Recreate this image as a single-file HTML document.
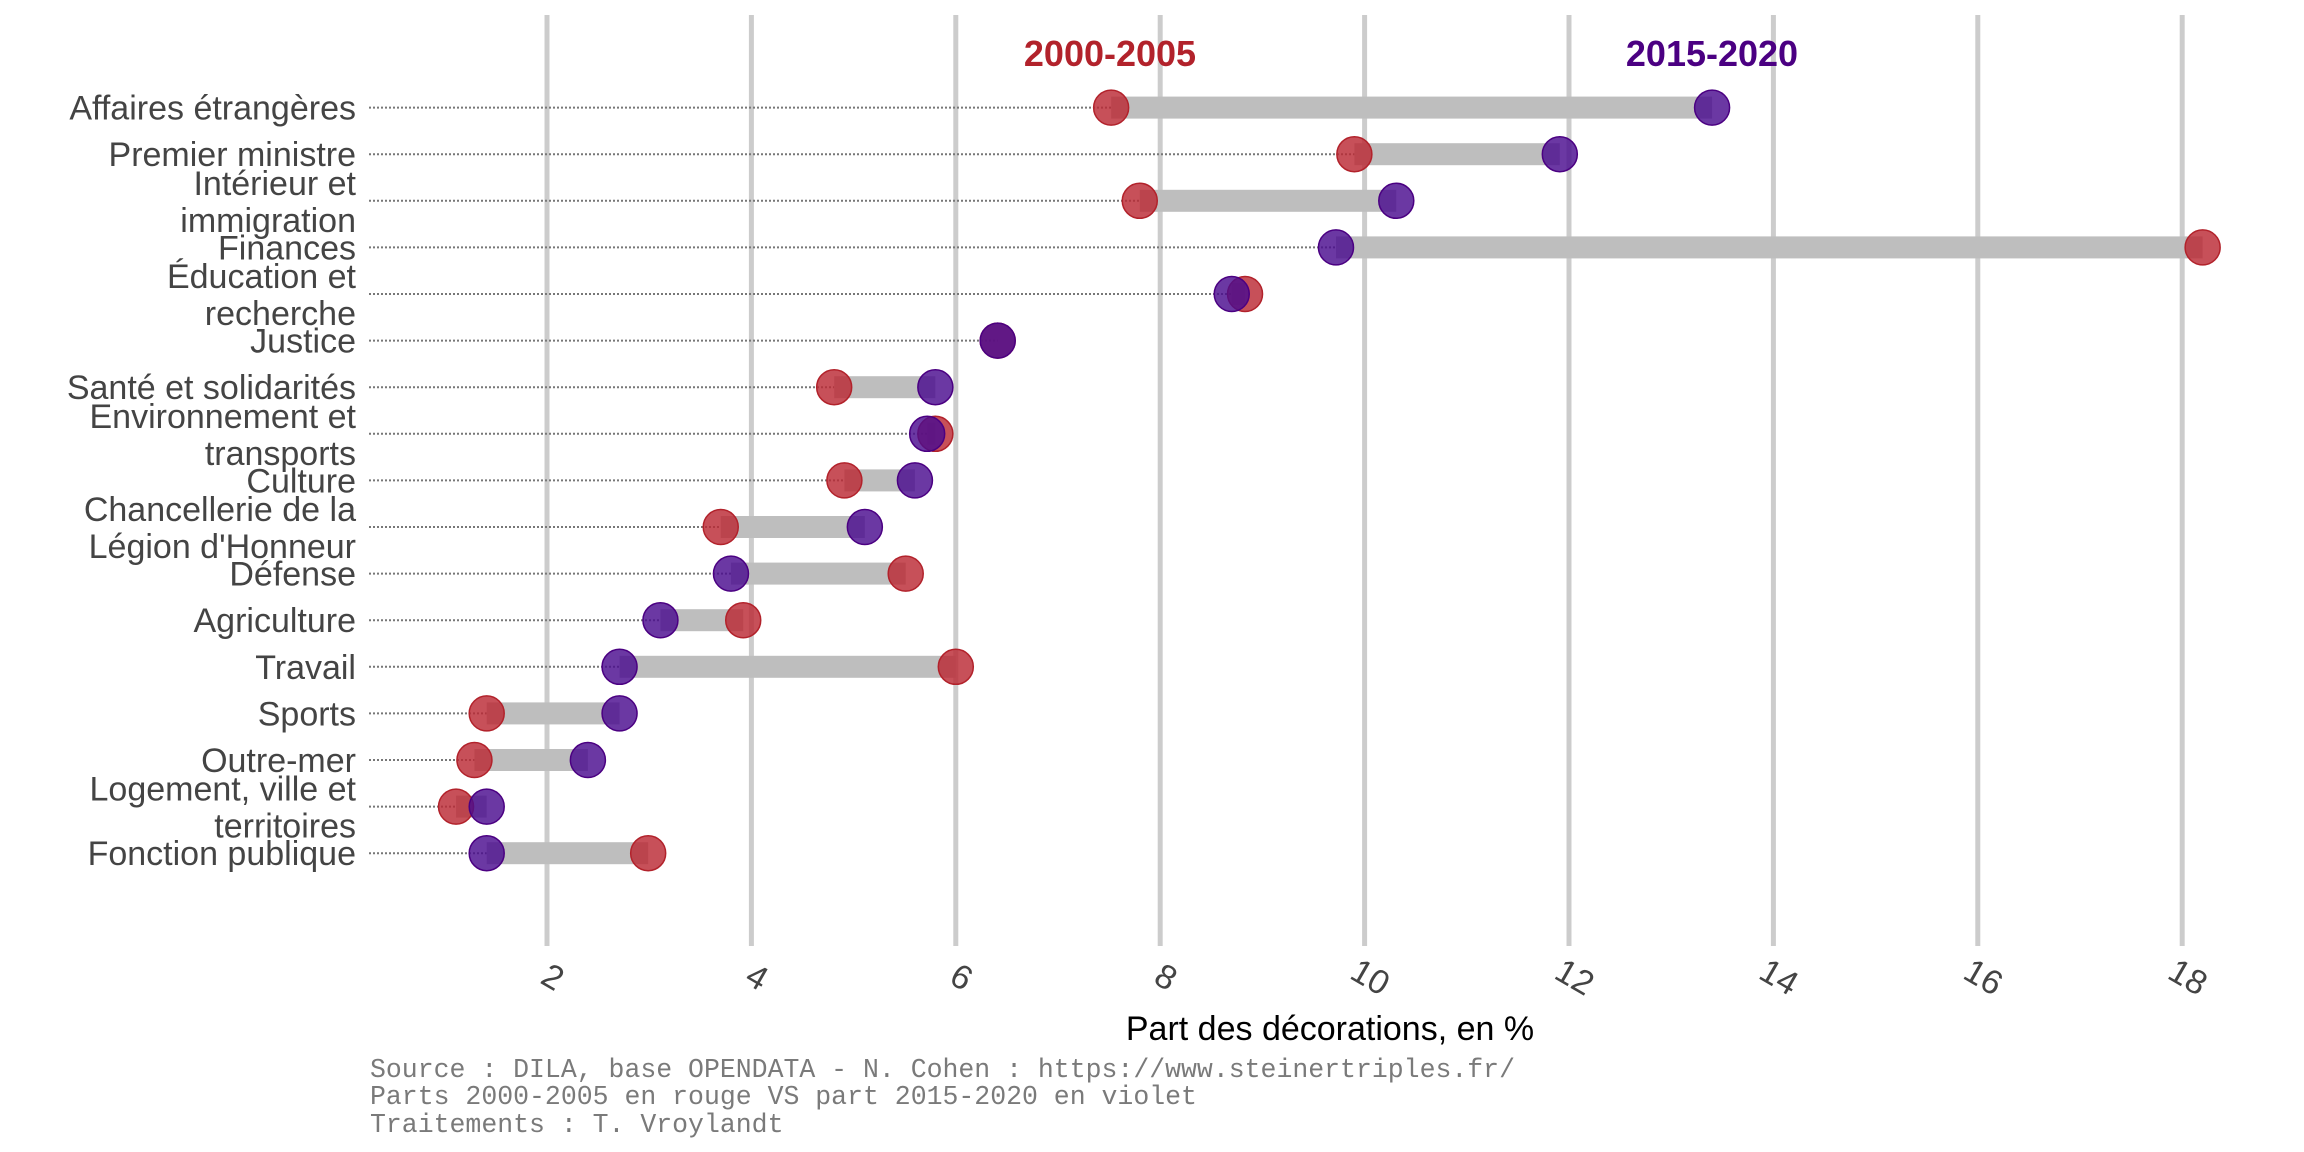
<!DOCTYPE html>
<html><head><meta charset="utf-8"><style>
html,body{margin:0;padding:0;background:#fff;}
svg{display:block;}
</style></head><body>
<svg id="chart" width="2304" height="1152" viewBox="0 0 2304 1152" xmlns="http://www.w3.org/2000/svg">
<g id="grid"></g>
<g id="rows"></g>
<text x="1110" y="66" text-anchor="middle" font-family="Liberation Sans, sans-serif" font-weight="bold" font-size="36" fill="#b2222b">2000-2005</text>
<text x="1712" y="66" text-anchor="middle" font-family="Liberation Sans, sans-serif" font-weight="bold" font-size="36" fill="#4b0082">2015-2020</text>
<text x="1330" y="1040" text-anchor="middle" font-family="Liberation Sans, sans-serif" font-size="34" fill="#000">Part des décorations, en %</text>
<g font-family="Liberation Mono, monospace" font-size="26.5" fill="#7a7a7a">
<text x="370" y="1077">Source : DILA, base OPENDATA - N. Cohen : https://www.steinertriples.fr/</text>
<text x="370" y="1104">Parts 2000-2005 en rouge VS part 2015-2020 en violet</text>
<text x="370" y="1132">Traitements : T. Vroylandt</text>
</g>
</svg>
<script>
const categories = [["Affaires étrangères"],["Premier ministre"],["Intérieur et","immigration"],["Finances"],["Éducation et","recherche"],["Justice"],["Santé et solidarités"],["Environnement et","transports"],["Culture"],["Chancellerie de la","Légion d'Honneur"],["Défense"],["Agriculture"],["Travail"],["Sports"],["Outre-mer"],["Logement, ville et","territoires"],["Fonction publique"]];
const values2000 = [7.52,9.9,7.8,18.2,8.83,6.41,4.81,5.8,4.91,3.7,5.51,3.92,6.0,1.41,1.29,1.11,2.99];
const values2015 = [13.4,11.91,10.31,9.72,8.7,6.41,5.8,5.72,5.6,5.11,3.8,3.11,2.71,2.71,2.4,1.41,1.41];
const xTicks = [2,4,6,8,10,12,14,16,18];

const NS = "http://www.w3.org/2000/svg";
const xScale = v => 547 + (v - 2) * 102.2;
const yScale = i => 107.6 + i * 46.6;
function mk(tag, attrs, parent){ const e=document.createElementNS(NS,tag); for(const k in attrs) e.setAttribute(k,attrs[k]); parent.appendChild(e); return e; }

const grid = document.getElementById('grid');
xTicks.forEach(t => {
  const l = mk('line',{x1:xScale(t),x2:xScale(t),y1:15,y2:946,stroke:'#cccccc','stroke-width':5},grid);
  
  
  const tx = mk('text',{x:0,y:0,'text-anchor':'middle','font-family':'Liberation Sans, sans-serif','font-size':34,fill:'#444',transform:`translate(${xScale(t)},987) rotate(30)`},grid);
  tx.textContent = t;
  
  
});

const rows = document.getElementById('rows');
categories.forEach((lab, i) => {
  const y = yScale(i);
  const a = values2000[i], b = values2015[i];
  const g = mk('g',{},rows);
  
  
  const t = mk('text',{x:356,'text-anchor':'end','font-family':'Liberation Sans, sans-serif','font-size':34,fill:'#444'},g);
  
  
  if(lab.length===1){ mk('tspan',{x:356,y:y+12},t).textContent=lab[0]; }
  else { mk('tspan',{x:356,y:y-6},t).textContent=lab[0]; mk('tspan',{x:356,y:y+31},t).textContent=lab[1]; }
  const lo = Math.min(a,b), hi = Math.max(a,b);
  const d = mk('line',{x1:369,x2:xScale(lo),y1:y,y2:y,stroke:'#777','stroke-width':2,'stroke-dasharray':'2 2'},g);
  
  
  const s = mk('rect',{x:xScale(lo),y:y-11,width:xScale(hi)-xScale(lo),height:22,fill:'#bebebe'},g);
  
  
  const c1 = mk('circle',{cx:xScale(a),cy:y,r:17.5,fill:'#bb2a34','fill-opacity':0.82,stroke:'#b2222b','stroke-width':1.5},g);
  
  
  const c2 = mk('circle',{cx:xScale(b),cy:y,r:17.5,fill:'#4a0c8f','fill-opacity':0.82,stroke:'#4b0082','stroke-width':1.5},g);
  
  
});
</script>
</body></html>
